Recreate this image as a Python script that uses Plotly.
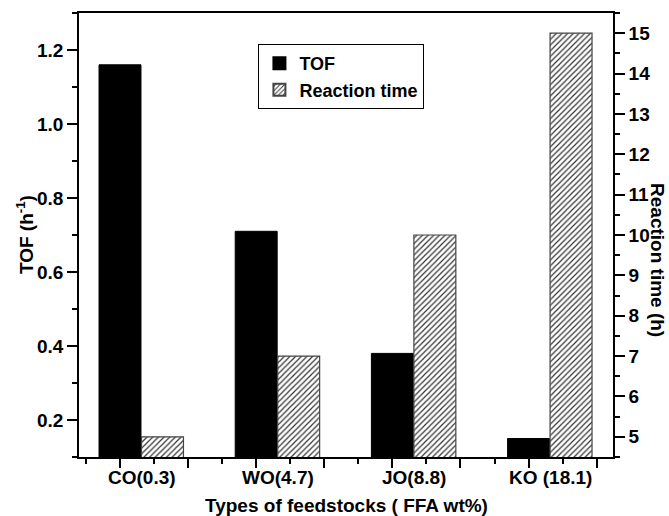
import plotly.graph_objects as go

# Feedstocks and their measured values
categories = ["CO(0.3)", "WO(4.7)", "JO(8.8)", "KO (18.1)"]
tof_values = [1.16, 0.71, 0.38, 0.15]          # TOF (h^-1)
reaction_time = [5, 7, 10, 15]                 # Reaction time (h)

positions = list(range(len(categories)))
BAR_W = 0.308
FONT = "Liberation Sans, Arial, sans-serif"

fig = go.Figure()

fig.add_trace(go.Bar(
    x=positions, y=tof_values, name="TOF",
    width=BAR_W, offset=-0.154,
    marker=dict(color="black", line=dict(color="black", width=1)),
    yaxis="y",
))

fig.add_trace(go.Bar(
    x=positions, y=reaction_time, name="Reaction time",
    width=BAR_W, offset=0.158,
    marker=dict(
        color="white",
        line=dict(color="#444444", width=1.2),
        pattern=dict(shape="/", size=4, solidity=0.3,
                     fgcolor="#333333", bgcolor="white", fillmode="replace"),
    ),
    yaxis="y2",
))

axis_common = dict(
    showline=True, linecolor="black", linewidth=1.6,
    ticks="outside", tickcolor="black", tickwidth=1.5,
    showgrid=False, zeroline=False,
)

tick_font = dict(family=FONT, size=19, weight="bold", color="black")

fig.update_layout(
    width=669, height=516,
    margin=dict(l=79, r=56, t=13, b=59),
    paper_bgcolor="white", plot_bgcolor="white",
    barmode="overlay",
    font=dict(family=FONT, color="black"),
    showlegend=True,
    legend=dict(
        x=0.336, y=0.93, xanchor="left", yanchor="top",
        bordercolor="black", borderwidth=1, bgcolor="white",
        font=dict(family=FONT, size=18, weight="bold", color="black"),
        tracegroupgap=0, itemsizing="constant",
    ),
    xaxis=dict(
        **axis_common,
        range=[-0.301, 3.620],
        tick0=0, dtick=0.5, ticklen=9,
        showticklabels=False,
        mirror=True,
        minor=dict(dtick=0.25, ticklen=5, ticks="outside",
                   tickcolor="black", tickwidth=1.5),
    ),
    xaxis2=dict(
        overlaying="x", side="top", anchor="y",
        range=[79, 613], tick0=85, dtick=31.75,
        ticks="inside", ticklen=3, tickcolor="#777777", tickwidth=1,
        showticklabels=False, showline=False, showgrid=False, zeroline=False,
    ),
    yaxis=dict(
        **axis_common,
        range=[0.1, 1.3],
        tick0=0.2, dtick=0.2, ticklen=10, tickformat=".1f",
        tickfont=tick_font,
        minor=dict(dtick=0.1, ticklen=5, ticks="outside",
                   tickcolor="black", tickwidth=1.5),
    ),
    yaxis2=dict(
        **axis_common,
        overlaying="y", side="right", anchor="x",
        range=[4.5, 15.5],
        tick0=5, dtick=1, ticklen=10,
        tickfont=tick_font,
        minor=dict(dtick=0.5, ticklen=5, ticks="outside",
                   tickcolor="black", tickwidth=1.5),
    ),
)

# Category labels beneath each pair of bars
for pos, label in zip(positions, categories):
    fig.add_annotation(
        x=pos + 0.16, xref="x", y=-0.047, yref="paper",
        text=label, showarrow=False, xanchor="center", yanchor="middle",
        font=tick_font,
    )

title_font = dict(family=FONT, size=19, weight="bold", color="black")

# Axis titles
fig.add_annotation(
    x=0.5, xref="paper", y=-0.11, yref="paper",
    text="Types of feedstocks ( FFA wt%)", showarrow=False,
    xanchor="center", yanchor="middle",
    font=title_font,
)
fig.add_annotation(
    x=-0.101, xref="paper", y=0.5, yref="paper",
    text="TOF (h<sup>-1</sup>)", showarrow=False, textangle=-90,
    xanchor="center", yanchor="middle",
    font=title_font,
)
fig.add_annotation(
    x=1.082, xref="paper", y=0.444, yref="paper",
    text="Reaction time (h)", showarrow=False, textangle=90,
    xanchor="center", yanchor="middle",
    font=title_font,
)

fig.write_html("out.html")
